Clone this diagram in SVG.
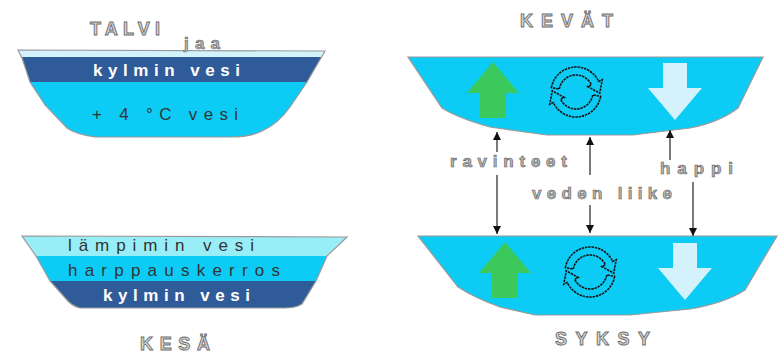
<svg xmlns="http://www.w3.org/2000/svg" xmlns:xlink="http://www.w3.org/1999/xlink" width="780" height="354" viewBox="0 0 780 354">
  <style>
    .title { font-family: "Liberation Sans", Arial, sans-serif; font-size: 18px; font-weight: bold; fill: #d6d6d6; stroke: #6e6e6e; stroke-width: 0.9; }
    .lbl { font-family: "Liberation Sans", Arial, sans-serif; font-size: 17px; font-weight: bold; fill: #b4b4b4; stroke: #5c5c5c; stroke-width: 0.6; }
    .inner { font-family: "Liberation Sans", Arial, sans-serif; font-size: 17px; fill: #333333; }
    .white { font-family: "Liberation Sans", Arial, sans-serif; font-size: 17px; font-weight: bold; fill: #ffffff; }
    .rim { fill: none; stroke: #9a9a9a; stroke-width: 1.2; }
    .water { fill: #0cccf6; }
    .cold { fill: #2f5b98; }
    .ice { fill: #d3f3fc; }
    .warm { fill: #98eef7; }
    .conn { stroke: #5a5a5a; stroke-width: 1.6; fill: none; }
    .cyc { fill: none; stroke: #151515; stroke-width: 1.6; stroke-dasharray: 2.5 0.8; }
  </style>
  <defs>
    <marker id="tip" viewBox="0 0 8 8" refX="8" refY="4" markerWidth="8" markerHeight="8" markerUnits="userSpaceOnUse" orient="auto">
      <path d="M0,0 L8,4 L0,8 Z" fill="#111"/>
    </marker>
    <!-- nutrients rising -->
    <path id="upArrow" d="M0,0 L26,31 L13,31 L13,56 L-13,56 L-13,31 L-26,31 Z" fill="#3ac95a"/>
    <!-- oxygen sinking -->
    <path id="downArrow" d="M-12,0 L12,0 L12,25 L27,25 L0,57 L-27,25 L-12,25 Z" fill="#d4f2fb"/>
    <!-- circulation symbol: two curved arrows chasing each other -->
    <path id="halfTurn" class="cyc" d="M-24.62,-4.34 A25,25 0 0 1 22.66,-10.57 L26.28,-12.25 L23.70,1.20 L11.78,-5.49 L15.41,-7.18 A17,17 0 0 0 -16.74,-2.95 Z"/>
    <g id="cycle">
      <use xlink:href="#halfTurn"/>
      <use xlink:href="#halfTurn" transform="rotate(180)"/>
    </g>
    <clipPath id="winterClip">
      <path d="M18,50 L325,51 L321,58 L307,82 L290,107 Q278,124 262,131 Q250,137 232,137 L95,137 Q75,134 67,128 L45,105 L30,82 L22,58 Z"/>
    </clipPath>
    <clipPath id="summerClip">
      <path d="M22,236 L347,237 L327,256 L316,281 L302,304 Q296,308 285,308 L80,308 Q72,306 67,300 L50,281 L36,256 Z"/>
    </clipPath>
  </defs>

  <!-- winter lake -->
  <g id="talvi">
    <g clip-path="url(#winterClip)">
      <rect class="water" x="0" y="82" width="340" height="60"/>
      <rect class="cold" x="0" y="57" width="340" height="25"/>
      <rect class="ice" x="0" y="48" width="340" height="9"/>
    </g>
    <path class="rim" d="M18,50 L325,51 L321,58 L307,82 L290,107 Q278,124 262,131 Q250,137 232,137 L95,137 Q75,134 67,128 L45,105 L30,82 L22,58 Z"/>
    <text class="title" x="90" y="35" textLength="70" lengthAdjust="spacing">TALVI</text>
    <text class="lbl" x="184" y="49" textLength="36" lengthAdjust="spacing">jaa</text>
    <text class="white" x="93" y="76" textLength="147" lengthAdjust="spacing">kylmin vesi</text>
    <text class="inner" x="92" y="120" textLength="146" lengthAdjust="spacing">+ 4 °C vesi</text>
  </g>

  <!-- summer lake -->
  <g id="kesa">
    <g clip-path="url(#summerClip)">
      <rect class="cold" x="0" y="281" width="360" height="30"/>
      <rect class="water" x="0" y="256" width="360" height="25"/>
      <rect class="warm" x="0" y="234" width="360" height="22"/>
    </g>
    <path class="rim" d="M22,236 L347,237 L327,256 L316,281 L302,304 Q296,308 285,308 L80,308 Q72,306 67,300 L50,281 L36,256 Z"/>
    <text class="inner" x="68" y="251" textLength="186" lengthAdjust="spacing">lämpimin vesi</text>
    <text class="inner" x="68" y="276" textLength="212" lengthAdjust="spacing">harppauskerros</text>
    <text class="white" x="103" y="301" textLength="147" lengthAdjust="spacing">kylmin vesi</text>
    <text class="title" x="140" y="350" textLength="70" lengthAdjust="spacing">KESÄ</text>
  </g>

  <!-- spring turnover -->
  <g id="kevat">
    <path class="water" d="M408,57 L763,57 L738,108 Q720,122 690,128 L633,135 L547,135 L490,127 Q458,118 442,108 Z"/>
    <path class="rim" d="M408,57 L763,57 L738,108 Q720,122 690,128 L633,135 L547,135 L490,127 Q458,118 442,108 Z"/>
    <use xlink:href="#upArrow" x="493" y="62"/>
    <use xlink:href="#cycle" x="576" y="92"/>
    <use xlink:href="#downArrow" x="675" y="63"/>
    <text class="title" x="520" y="27" textLength="93" lengthAdjust="spacing">KEVÄT</text>
  </g>

  <!-- autumn turnover -->
  <g id="syksy">
    <path class="water" d="M418,236 L777,236 L745,290 Q725,303 690,309 L630,315 L535,315 L500,307 Q475,298 458,287 Z"/>
    <path class="rim" d="M418,236 L777,236 L745,290 Q725,303 690,309 L630,315 L535,315 L500,307 Q475,298 458,287 Z"/>
    <use xlink:href="#upArrow" x="505" y="242"/>
    <use xlink:href="#cycle" x="590" y="272"/>
    <use xlink:href="#downArrow" x="685" y="243"/>
    <text class="title" x="555" y="345" textLength="95" lengthAdjust="spacing">SYKSY</text>
  </g>

  <!-- exchange between the seasons -->
  <g id="connectors">
    <line class="conn" x1="497" y1="152" x2="497" y2="132" marker-end="url(#tip)"/>
    <line class="conn" x1="497" y1="175" x2="497" y2="234" marker-end="url(#tip)"/>
    <line class="conn" x1="590" y1="175" x2="590" y2="137" marker-end="url(#tip)"/>
    <line class="conn" x1="590" y1="205" x2="590" y2="233" marker-end="url(#tip)"/>
    <line class="conn" x1="670" y1="160" x2="670" y2="130" marker-end="url(#tip)"/>
    <line class="conn" x1="693" y1="182" x2="693" y2="236" marker-end="url(#tip)"/>
    <text class="lbl" x="450" y="167" textLength="117" lengthAdjust="spacing">ravinteet</text>
    <text class="lbl" x="532" y="199" textLength="140" lengthAdjust="spacing">veden liike</text>
    <text class="lbl" x="660" y="174" textLength="73" lengthAdjust="spacing">happi</text>
  </g>
</svg>
